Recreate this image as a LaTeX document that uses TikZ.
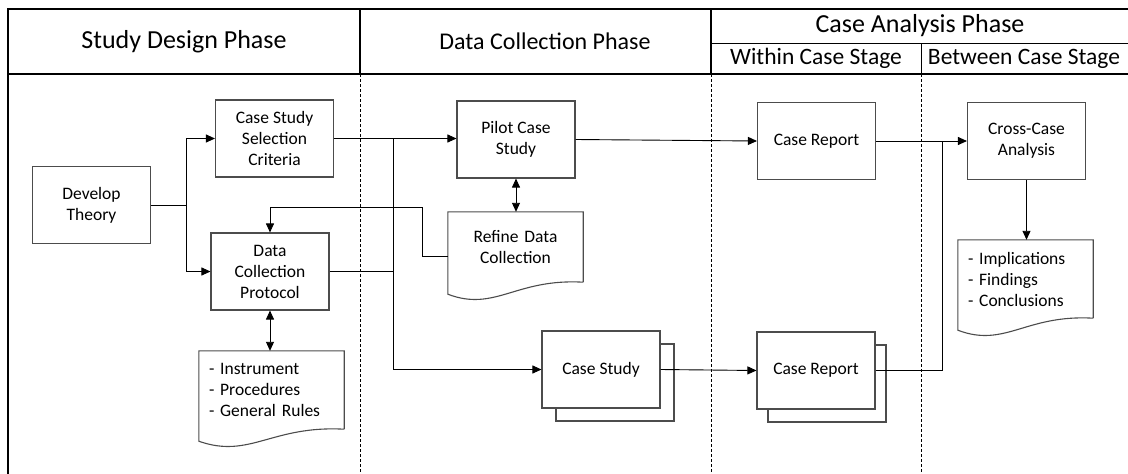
\documentclass[tikz,border=0pt]{standalone}
\usepackage{fontspec}
\setmainfont{Carlito}
\usetikzlibrary{arrows.meta,calc,shadows}

\tikzset{
  phase/.style={font=\fontsize{26}{31}\selectfont, inner sep=0pt},
  stage/.style={font=\fontsize{23.5}{28}\selectfont, inner sep=0pt},
  procbox/.style={draw=black!70, line width=1.1pt, fill=white, minimum width=118pt, minimum height=77pt,
    inner sep=2pt, align=center, font=\fontsize{17.5}{21}\selectfont},
  stackbox/.style={procbox, copy shadow={shadow xshift=#1, shadow yshift=-13pt}},
  stackbox/.default=13pt,
  docbox/.style={inner xsep=10pt, inner ysep=0pt, font=\fontsize{17.5}{21}\selectfont},
  conn/.style={line width=0.9pt, -{Triangle[length=9pt,width=8pt]}},
  twoway/.style={line width=0.9pt, {Triangle[length=9pt,width=8pt]}-{Triangle[length=9pt,width=8pt]}},
  lane/.style={line width=0.8pt, dash pattern=on 3pt off 2pt}
}

% outline of a document shape with a wavy bottom
\newcommand{\docedge}[1]{%
  \draw[draw=black!70, line width=1.1pt] (#1.south east) -- (#1.north east) -- (#1.north west)
    -- ($(#1.south west)+(0,12)$)
    .. controls ($(#1.south west)!0.35!(#1.south east)+(0,30)$) and ($(#1.south west)!0.5!(#1.south east)+(0,-4)$) .. (#1.south east);}

\begin{document}
\begin{tikzpicture}[x=1pt, y=-1pt]
    \useasboundingbox (0,0) rectangle (1128,474);

    % Header frame
    \draw[line width=2pt] (8,474) -- (8,9) -- (1128,9);
    \draw[line width=2pt] (8,74) -- (1128,74);
    \draw[line width=2pt] (360,9) -- (360,74);
    \draw[line width=2pt] (711,9) -- (711,74);
    \draw[line width=1pt] (711,43) -- (1128,43);
    \draw[line width=1pt] (921,43) -- (921,74);

    \node[phase] (design) at (184,41.5) {Study Design Phase};
    \node[phase, font=\fontsize{24}{29}\selectfont] (collect) at (545,41.5) {Data Collection Phase};
    \node[phase] (analysis) at (920,26) {Case Analysis Phase};
    \node[stage] (within) at (816,58.5) {Within Case Stage};
    \node[stage] (between) at (1024,58.5) {Between Case Stage};

    % Swim lanes
    \draw[lane] (360,74) -- (360,474);
    \draw[lane] (711,74) -- (711,474);
    \draw[lane] (921,74) -- (921,474);

    % Study design
    \node[procbox] (theory) at (91.5,205) {Develop\\Theory};
    \node[procbox] (criteria) at (274.5,138.5) {Case Study\\Selection\\Criteria};
    \node[procbox] (protocol) at (270,271.5) {Data\\Collection\\Protocol};
    \node[docbox, text width=125pt, minimum height=78pt, align=left] (rules) at (271.5,390)
        {- Instrument\\- Procedures\\- General Rules};
    \docedge{rules}

    % Data collection
    \node[procbox] (pilot) at (516,139.5) {Pilot Case\\Study};
    \node[docbox, text width=115pt, minimum height=70pt, align=center] (refine) at (515.5,247)
        {Refine Data\\Collection};
    \docedge{refine}
    \node[stackbox=14pt] (study) at (601,369.5) {Case Study};

    % Case analysis
    \node[procbox] (report) at (816.5,141) {Case Report};
    \node[stackbox=11pt] (reports) at (816,370.5) {Case Report};
    \node[procbox] (cross) at (1026.5,141) {Cross-Case\\Analysis};
    \node[docbox, text width=115pt, minimum height=78pt, align=left] (results) at (1025.5,279)
        {- Implications\\- Findings\\- Conclusions};
    \docedge{results}

    % Connectors
    \coordinate (fork) at (186,205);
    \coordinate (trunk) at (393,0);
    \coordinate (loop) at (422,207);
    \coordinate (merge) at (942,0);

    \draw[line width=0.9pt] (theory.east) -- (fork);
    \draw[conn] (fork) |- (criteria.west);
    \draw[conn] (fork) |- (protocol.west);
    \draw[twoway] (protocol.south) -- (protocol.south |- rules.north);

    \draw[conn] (criteria.east) -- (criteria.east -| pilot.west);
    \draw[conn] (criteria.east -| trunk) |- (study.west);
    \draw[line width=0.9pt] (protocol.east) -- (protocol.east -| trunk);

    \draw[twoway] (pilot.south) -- (pilot.south |- refine.north);
    \draw[conn] ($(refine.west)+(0,9)$) -| (loop) -| (protocol.north);

    \draw[conn] (pilot.east) -- (report.west);
    \draw[conn] (study.east) -- (reports.west);

    \draw[conn] (report.east) -- (cross.west);
    \draw[line width=0.9pt] (reports.east) -| (merge |- cross.west);
    \draw[conn] (cross.south) -- (cross.south |- results.north);
\end{tikzpicture}
\end{document}
